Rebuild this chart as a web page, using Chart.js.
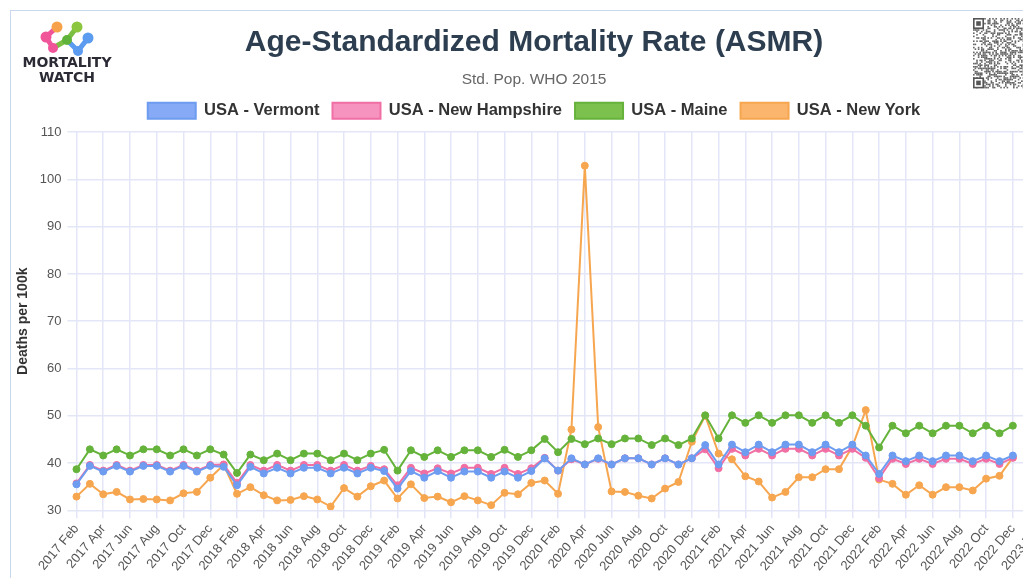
<!DOCTYPE html>
<html><head><meta charset="utf-8">
<script src="https://cdn.jsdelivr.net/npm/chart.js@4.4.1/dist/chart.umd.min.js"></script>
<style>
html,body{margin:0;padding:0;background:#fff;overflow:hidden;width:1033px;height:578px}
#wrap{position:absolute;left:10px;top:10px;width:1013px;height:568px;border-top:1px solid #c9d7ef;border-left:1px solid #c9d7ef;overflow:hidden;box-sizing:border-box}
#c{position:absolute;left:0;top:0}
</style></head><body>
<div id="wrap"><canvas id="c" width="1050" height="567"></canvas></div>
<script>
const months = ["2017 Feb","2017 Mar","2017 Apr","2017 May","2017 Jun","2017 Jul","2017 Aug","2017 Sep","2017 Oct","2017 Nov","2017 Dec",
"2018 Jan","2018 Feb","2018 Mar","2018 Apr","2018 May","2018 Jun","2018 Jul","2018 Aug","2018 Sep","2018 Oct","2018 Nov","2018 Dec",
"2019 Jan","2019 Feb","2019 Mar","2019 Apr","2019 May","2019 Jun","2019 Jul","2019 Aug","2019 Sep","2019 Oct","2019 Nov","2019 Dec",
"2020 Jan","2020 Feb","2020 Mar","2020 Apr","2020 May","2020 Jun","2020 Jul","2020 Aug","2020 Sep","2020 Oct","2020 Nov","2020 Dec",
"2021 Jan","2021 Feb","2021 Mar","2021 Apr","2021 May","2021 Jun","2021 Jul","2021 Aug","2021 Sep","2021 Oct","2021 Nov","2021 Dec",
"2022 Jan","2022 Feb","2022 Mar","2022 Apr","2022 May","2022 Jun","2022 Jul","2022 Aug","2022 Sep","2022 Oct","2022 Nov","2022 Dec",
"2023 Jan","2023 Feb","2023 Mar"];

const vermont = [35.5,39.4,38.2,39.4,38.2,39.4,39.4,38.2,39.4,38.2,39.4,
39.2,35.3,39.2,37.8,39.0,37.8,39.0,39.0,37.8,39.0,37.8,39.0,
38.3,34.6,38.3,36.9,38.3,36.9,38.2,38.2,36.9,38.2,36.9,38.3,
41.0,38.4,41.0,39.7,41.0,39.7,41.0,41.0,39.7,41.0,39.7,41.0,
43.8,39.7,43.9,42.3,43.9,42.3,43.9,43.9,42.3,43.9,42.3,43.9,
41.6,37.7,41.6,40.4,41.6,40.4,41.6,41.6,40.4,41.6,40.4,41.6,
null,null,null];

const newHampshire = [35.7,39.6,38.4,39.6,38.4,39.6,39.6,38.4,39.6,38.4,39.6,
39.7,35.8,39.6,38.4,39.6,38.4,39.6,39.6,38.4,39.6,38.4,39.4,
38.7,35.3,39.0,37.8,38.9,37.8,39.0,39.0,37.7,39.0,37.7,38.9,
41.1,38.4,40.8,39.7,40.9,39.7,41.0,41.0,39.7,41.0,39.7,41.0,
42.9,38.9,43.0,41.6,43.0,41.6,43.0,43.0,41.6,43.0,41.6,43.0,
41.1,36.8,40.9,39.8,40.9,39.8,40.9,40.9,39.8,40.9,39.8,41.1,
null,null,null];

const maine = [38.7,42.9,41.6,42.9,41.6,42.9,42.9,41.6,42.9,41.6,42.9,
41.8,37.9,41.8,40.6,42.0,40.6,42.0,42.0,40.6,42.0,40.6,42.0,
42.8,38.4,42.7,41.3,42.7,41.3,42.7,42.7,41.3,42.8,41.3,42.7,
45.1,42.3,45.1,44.0,45.2,44.0,45.2,45.2,43.8,45.2,43.8,45.2,
50.1,45.2,50.1,48.5,50.1,48.5,50.1,50.1,48.5,50.1,48.5,50.1,
47.9,43.3,47.9,46.3,47.9,46.3,47.9,47.9,46.3,47.9,46.3,47.9,
null,null,null];

const newYork = [32.9,35.6,33.4,33.9,32.3,32.4,32.3,32.1,33.6,33.9,36.9,
39.6,33.5,34.9,33.2,32.1,32.2,33.0,32.3,30.8,34.7,32.9,35.1,
36.3,32.5,35.5,32.6,32.9,31.7,33.0,32.1,31.1,33.7,33.4,35.8,
36.3,33.5,47.1,102.9,47.6,34.0,33.9,33.1,32.5,34.6,36.0,44.5,
50.0,42.0,40.8,37.2,36.1,32.7,33.9,37.0,37.0,38.7,38.7,43.5,
51.2,36.5,35.6,33.3,35.3,33.3,34.9,34.9,34.2,36.7,37.3,41.2,
null,null,null];

const yTicks = [30,40,50,60,70,80,90,100,110];
const titleText = "Age-Standardized Mortality Rate (ASMR)";
const subtitleText = "Std. Pop. WHO 2015";
const yTitle = "Deaths per 100k";

const FONT = "Arial, 'Liberation Sans', sans-serif";

function ds(label, data, line, fill) {
  return {label, data, borderColor: line, backgroundColor: fill,
    pointBackgroundColor: line, pointBorderColor: line,
    borderWidth: 2, pointRadius: 3.5, pointBorderWidth: 1, tension: 0, spanGaps: false};
}

const decor = {
  id: 'decor',
  beforeUpdate(chart) {
    const lg = chart.legend;
    if (lg && !lg._extraGap) {
      const f = lg.fit;
      lg.fit = function() { f.call(this); this.height += 3; };
      lg._extraGap = true;
    }
  },
  afterDraw(chart) {
    const c = chart.ctx;
    c.save();
    c.lineCap = 'round';
    c.lineWidth = 5;
    const seg = (x1,y1,x2,y2,col)=>{c.strokeStyle=col;c.beginPath();c.moveTo(x1,y1);c.lineTo(x2,y2);c.stroke();};
    seg(35,26,42,37,'#f0559a');
    seg(35,26,46,16,'#f0559a');
    seg(42,37,56,29,'#7bc043');
    seg(56,29,66,16,'#7bc043');
    seg(56,29,67,40,'#5b9bf0');
    seg(67,40,77,27,'#5b9bf0');
    const dot=(x,y,r,col)=>{c.fillStyle=col;c.beginPath();c.arc(x,y,r,0,Math.PI*2);c.fill();};
    dot(46,16,5.5,'#f7a24a');
    dot(66,16,5.5,'#8cc63f');
    dot(35,26,5.5,'#f0559a');
    dot(42,37,5,'#f0559a');
    dot(56,29,5,'#5fb33a');
    dot(77,27,5.5,'#5b9bf0');
    dot(67,40,5,'#5b9bf0');
    c.fillStyle = '#2b2b35';
    c.textAlign = 'center';
    c.textBaseline = 'middle';
    c.font = "bold 14px 'DejaVu Sans', sans-serif";
    c.fillText('MORTALITY', 56, 52);
    c.fillText('WATCH', 56, 67);
    const qx = 962, qy = 7, cell = 1.6, n = 44;
    c.fillStyle = '#fff';
    c.fillRect(qx, qy, n*cell, n*cell);
    c.fillStyle = '#666';
    for (let i=0;i<n;i++) for (let j=0;j<n;j++) {
      const h = ((i*73856093) ^ (j*19349663) ^ (i*j*83492791)) >>> 0;
      if ((h % 7) < 3) c.fillRect(qx+i*cell, qy+j*cell, cell, cell);
    }
    const finder=(x,y)=>{c.fillStyle='#555';c.fillRect(x,y,11,11);c.fillStyle='#fff';c.fillRect(x+1.6,y+1.6,7.8,7.8);c.fillStyle='#555';c.fillRect(x+3.2,y+3.2,4.6,4.6);};
    finder(qx,qy); finder(qx+n*cell-11,qy); finder(qx,qy+n*cell-11);
    c.restore();
  }
};

new Chart(document.getElementById('c'), {
  type: 'line',
  data: {
    labels: months,
    datasets: [
      ds('USA - Vermont', vermont, '#6d9cf0', '#86aaf5'),
      ds('USA - New Hampshire', newHampshire, '#f06fa4', '#f793bf'),
      ds('USA - Maine', maine, '#65b33b', '#7cc04d'),
      ds('USA - New York', newYork, '#f7a650', '#fbb56c')
    ]
  },
  options: {
    responsive: false,
    animation: false,
    layout: {padding: {left: 4, right: 8, top: 2, bottom: 1}},
    plugins: {
      title: {display: true, text: titleText, color: '#2c3e50',
        font: {family: FONT, size: 30, weight: 'bold'}, padding: {top: 12, bottom: 3}},
      subtitle: {display: true, text: subtitleText, color: '#666',
        font: {family: FONT, size: 15.5}, padding: {top: 6, bottom: 1}},
      legend: {display: true, labels: {boxWidth: 48, boxHeight: 16, padding: 13, color: '#333',
        font: {family: FONT, size: 16.5, weight: 'bold'}}},
      tooltip: {enabled: false}
    },
    scales: {
      x: {
        grid: {color: '#e3e6f7', lineWidth: 1.5, tickLength: 8},
        border: {display: false},
        ticks: {autoSkip: false, maxRotation: 50, minRotation: 50, color: '#555',
          font: {family: FONT, size: 13},
          callback: function(v, i) { return i % 2 === 0 ? months[i] : null; }}
      },
      y: {
        min: 30, max: 110,
        afterBuildTicks: (axis) => { axis.ticks = yTicks.map(v => ({value: v})); },
        grid: {color: '#e3e6f7', lineWidth: 1.5, tickLength: 9},
        border: {display: false},
        ticks: {color: '#555', font: {family: FONT, size: 13}, padding: 6},
        title: {display: true, text: yTitle, color: '#333', font: {family: FONT, size: 14, weight: 'bold'}, padding: {top: 0, bottom: 2}}
      }
    }
  },
  plugins: [decor]
});
</script>
</body></html>
